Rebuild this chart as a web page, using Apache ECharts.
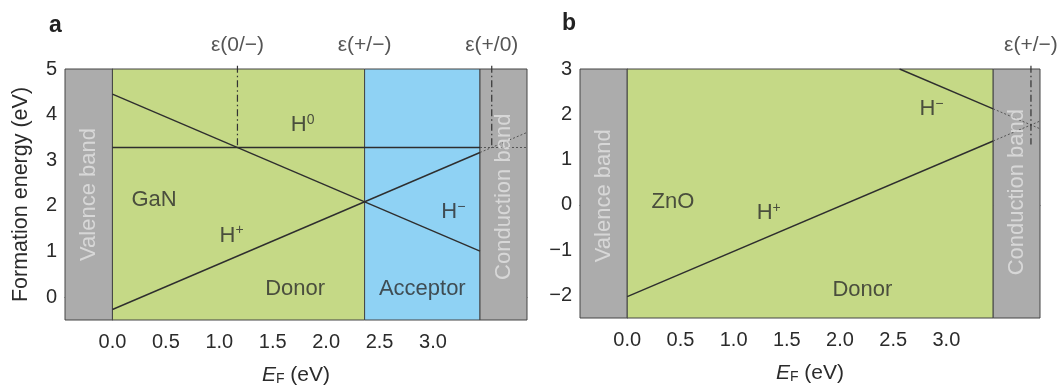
<!DOCTYPE html>
<html>
<head>
<meta charset="utf-8">
<script src="https://cdn.jsdelivr.net/npm/echarts@6/dist/echarts.min.js"></script>
<style>
html,body{margin:0;padding:0;background:#fff;}
#c{width:1060px;height:392px;}
</style>
</head>
<body>
<div id="c"></div>
<script>
// ---------- data ----------
const xTickValues = [0, 0.5, 1.0, 1.5, 2.0, 2.5, 3.0];
const xMinorValues = [0.25, 0.75, 1.25, 1.75, 2.25, 2.75, 3.25];
const yTickValuesA = [0, 1, 2, 3, 4, 5];
const yMinorValuesA = [0.5, 1.5, 2.5, 3.5, 4.5];
const yTickValuesB = [-2, -1, 0, 1, 2, 3];
const yMinorValuesB = [-1.5, -0.5, 0.5, 1.5, 2.5];

const xRange = [-0.444, 3.88];
const yRangeA = [-0.5, 5];
const yRangeB = [-2.5, 3];

// regions: [kind, from, to]
const regionsA = [['band', -0.444, 0], ['donor', 0, 2.36], ['acceptor', 2.36, 3.44], ['band', 3.44, 3.88]];
const regionsB = [['band', -0.444, 0], ['donor', 0, 3.44], ['band', 3.44, 3.88]];

// formation-energy lines (solid inside gap, dotted inside conduction band)
const hPlusA = [[0, -0.27], [3.44, 3.17]];
const hPlusA_cb = [[3.44, 3.17], [3.88, 3.61]];
const hMinusA = [[0, 4.45], [3.44, 1.01]];
const hZeroA = [[0, 3.28], [3.44, 3.28]];
const hZeroA_cb = [[3.44, 3.28], [3.88, 3.28]];

const hPlusB = [[0, -2.03], [3.44, 1.41]];
const hPlusB_cb = [[3.44, 1.41], [3.88, 1.85]];
const hMinusB = [[2.56, 3.0], [3.44, 2.12]];
const hMinusB_cb = [[3.44, 2.12], [3.88, 1.68]];

// transition levels: [label, x, lower end of marker line (null = no line)]
const transA = [['ε(0/−)', 1.17, 3.28], ['ε(+/−)', 2.36, null], ['ε(+/0)', 3.55, 3.28]];
const transB = [['ε(+/−)', 3.795, 1.33]];

// text annotations in data units: [text, x, y]
const textA = [['GaN', 0.39, 2.12], ['Donor', 1.71, 0.19], ['Acceptor', 2.90, 0.19]];
const ionA = [['0', 1.78, 3.78], ['+', 1.115, 1.35], ['−', 3.19, 1.87]];
const bandTextA = [['Valence band', -0.222, 2.25], ['Conduction band', 3.66, 2.2]];
const textB = [['ZnO', 0.43, 0.06], ['Donor', 2.21, -1.88]];
const ionB = [['+', 1.33, -0.19], ['−', 2.86, 2.12]];
const bandTextB = [['Valence band', -0.222, 0.2], ['Conduction band', 3.66, 0.28]];

// ---------- styles ----------
const FONT = "'Liberation Sans', Arial, sans-serif";
const TXT = '#2b2b2b';
const LINE = '#2e2e2e';
const regionColor = {band: '#acacac', donor: '#c5d986', acceptor: '#8fd2f4'};

const chart = echarts.init(document.getElementById('c'), null, {renderer: 'canvas'});

function minus(v) { return v < 0 ? '−' + Math.abs(v) : String(v); }

function xAxes(gi) {
  return [{
    type: 'value', gridIndex: gi, min: xRange[0], max: xRange[1],
    splitLine: {show: false},
    axisLine: {show: true, lineStyle: {color: '#444', width: 1}},
    axisTick: {show: true, customValues: xTickValues, length: 5, lineStyle: {color: '#444'}},
    axisLabel: {show: true, customValues: xTickValues, formatter: v => v.toFixed(1),
      color: TXT, fontSize: 20, fontFamily: FONT, margin: 12},
    name: '{e|E}{f|F}{n| (eV)}', nameLocation: 'middle', nameGap: 44,
    nameTextStyle: {fontFamily: FONT, color: TXT, fontSize: 21,
      rich: {e: {fontStyle: 'italic', fontSize: 21, fontFamily: FONT, color: TXT},
             f: {fontSize: 14, fontFamily: FONT, color: TXT, verticalAlign: 'bottom', padding: [8, 0, 0, 0]},
             n: {fontSize: 21, fontFamily: FONT, color: TXT}}}
  }, {
    type: 'value', gridIndex: gi, min: xRange[0], max: xRange[1],
    splitLine: {show: false}, axisLine: {show: false},
    axisTick: {show: true, customValues: xMinorValues, length: 4, lineStyle: {color: '#444'}},
    axisLabel: {show: false}
  }];
}

function yAxes(gi, range, major, minor, name) {
  return [{
    type: 'value', gridIndex: gi, min: range[0], max: range[1], position: 'left',
    splitLine: {show: false},
    axisLine: {show: true, lineStyle: {color: '#444', width: 1}},
    axisTick: {show: true, customValues: major, length: 5, lineStyle: {color: '#444'}},
    axisLabel: {show: true, customValues: major, formatter: minus,
      color: TXT, fontSize: 20, fontFamily: FONT, margin: 8},
    name: name, nameLocation: 'middle', nameGap: 33,
    nameTextStyle: {fontFamily: FONT, color: TXT, fontSize: 21.5}
  }, {
    type: 'value', gridIndex: gi, min: range[0], max: range[1], position: 'left', offset: 0,
    splitLine: {show: false}, axisLine: {show: false},
    axisTick: {show: true, customValues: minor, length: 3, lineStyle: {color: '#444'}},
    axisLabel: {show: false}
  }];
}

function regionSeries(xi, yi, regions, yr) {
  return {
    type: 'custom', xAxisIndex: xi, yAxisIndex: yi, silent: true, z: 1, clip: false,
    data: regions.map(r => [r[1], r[2], r[0]]),
    renderItem: function (params, api) {
      const kind = regions[params.dataIndex][0];
      const p0 = api.coord([api.value(0), yr[1]]);
      const p1 = api.coord([api.value(1), yr[0]]);
      return {
        type: 'rect',
        shape: {x: p0[0], y: p0[1], width: p1[0] - p0[0], height: p1[1] - p0[1]},
        style: {fill: regionColor[kind], stroke: '#444', lineWidth: 1}
      };
    }
  };
}

function lineSeries(xi, yi, data, dotted) {
  return {
    type: 'line', xAxisIndex: xi, yAxisIndex: yi, data: data, symbol: 'none', silent: true, z: 3,
    lineStyle: dotted ? {color: '#555', width: 1, type: [2, 2]} : {color: LINE, width: 1.4}
  };
}

function transSeries(xi, yi, trans, yTop) {
  const out = [];
  trans.forEach(t => {
    if (t[2] !== null) {
      out.push({
        type: 'line', xAxisIndex: xi, yAxisIndex: yi, symbol: 'none', silent: true, clip: false, z: 4,
        data: [[t[1], yTop + 0.07], [t[1], t[2]]],
        lineStyle: {color: '#333', width: 1.2, type: [7, 3, 1.5, 3]}
      });
    }
  });
  out.push({
    type: 'scatter', xAxisIndex: xi, yAxisIndex: yi, symbolSize: 0, silent: true, clip: false, z: 5,
    data: trans.map(t => [t[1], yTop, t[0]]),
    label: {show: true, position: 'top', distance: 13, formatter: p => p.data[2],
      color: TXT, fontSize: 21, fontFamily: FONT}
  });
  return out;
}

function textSeries(xi, yi, items) {
  return {
    type: 'scatter', xAxisIndex: xi, yAxisIndex: yi, symbolSize: 0, silent: true, z: 5,
    data: items.map(t => [t[1], t[2], t[0]]),
    label: {show: true, position: 'inside', formatter: p => p.data[2],
      color: TXT, fontSize: 22, fontFamily: FONT}
  };
}

function ionSeries(xi, yi, items) {
  return {
    type: 'scatter', xAxisIndex: xi, yAxisIndex: yi, symbolSize: 0, silent: true, z: 5,
    data: items.map(t => [t[1], t[2], t[0]]),
    label: {show: true, position: 'inside', formatter: p => '{h|H}{s|' + p.data[2] + '}',
      rich: {
        h: {fontSize: 22, fontFamily: FONT, color: TXT, lineHeight: 24},
        s: {fontSize: 14, fontFamily: FONT, color: TXT, verticalAlign: 'top', lineHeight: 24, padding: [0, 0, 10, 0]}
      }}
  };
}

function bandTextSeries(xi, yi, items) {
  return {
    type: 'scatter', xAxisIndex: xi, yAxisIndex: yi, symbolSize: 0, silent: true, z: 5, clip: false,
    data: items.map(t => [t[1], t[2], t[0]]),
    label: {show: true, position: 'inside', rotate: 90, formatter: p => p.data[2],
      color: '#e2e2e2', fontSize: 22, fontFamily: FONT}
  };
}

const option = {
  animation: false,
  backgroundColor: '#ffffff',
  textStyle: {fontFamily: FONT},
  title: [
    {text: 'a', left: 44, top: 9, textStyle: {fontSize: 23, fontWeight: 'bold', color: '#222', fontFamily: FONT}},
    {text: 'b', left: 557, top: 7, textStyle: {fontSize: 23, fontWeight: 'bold', color: '#222', fontFamily: FONT}}
  ],
  grid: [
    {left: 65, top: 69, width: 462, height: 251, show: false},
    {left: 580, top: 69, width: 460, height: 249, show: false}
  ],
  xAxis: [].concat(xAxes(0), xAxes(1)),
  yAxis: [].concat(
    yAxes(0, yRangeA, yTickValuesA, yMinorValuesA, 'Formation energy (eV)'),
    yAxes(1, yRangeB, yTickValuesB, yMinorValuesB, '')
  ),
  series: [
    regionSeries(0, 0, regionsA, yRangeA),
    lineSeries(0, 0, hPlusA, false),
    lineSeries(0, 0, hPlusA_cb, true),
    lineSeries(0, 0, hMinusA, false),
    lineSeries(0, 0, hZeroA, false),
    lineSeries(0, 0, hZeroA_cb, true),
    ...transSeries(0, 0, transA, yRangeA[1]),
    textSeries(0, 0, textA),
    ionSeries(0, 0, ionA),
    bandTextSeries(0, 0, bandTextA),

    regionSeries(2, 2, regionsB, yRangeB),
    lineSeries(2, 2, hPlusB, false),
    lineSeries(2, 2, hPlusB_cb, true),
    lineSeries(2, 2, hMinusB, false),
    lineSeries(2, 2, hMinusB_cb, true),
    ...transSeries(2, 2, transB, yRangeB[1]),
    textSeries(2, 2, textB),
    ionSeries(2, 2, ionB),
    bandTextSeries(2, 2, bandTextB)
  ]
};
chart.setOption(option);
</script>
</body>
</html>
